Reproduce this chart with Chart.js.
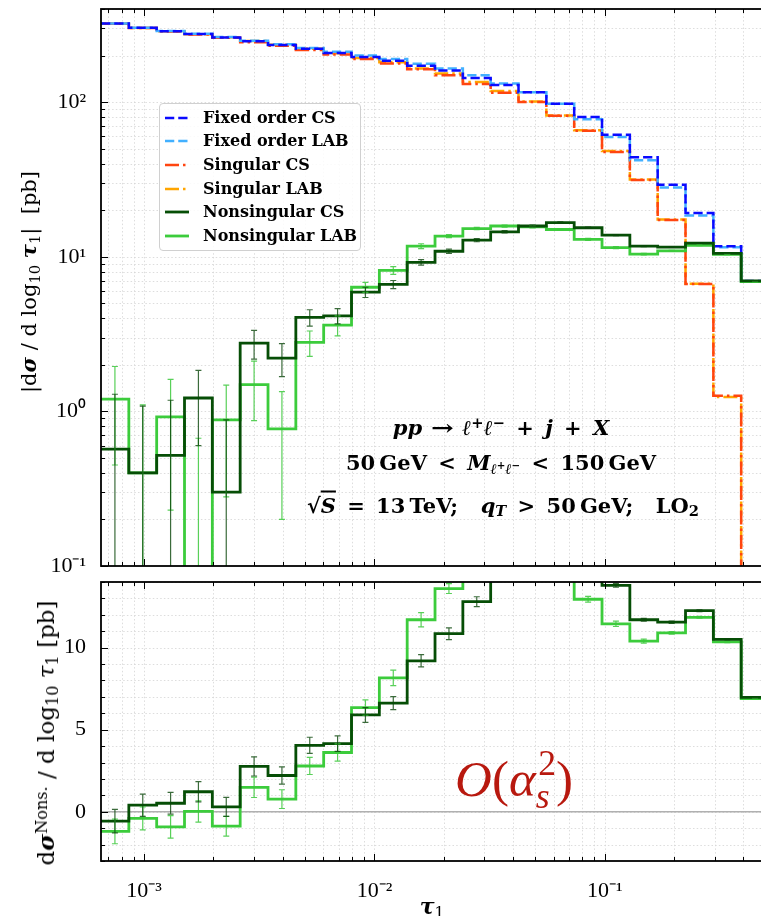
<!DOCTYPE html>
<html>
<head>
<meta charset="utf-8">
<script src="https://cdn.jsdelivr.net/npm/chart.js@4.4.1/dist/chart.umd.min.js"></script>
<style>
html,body{margin:0;padding:0;background:#fff;overflow:hidden;}
#wrap{position:relative;width:761px;height:916px;overflow:hidden;background:#fff;}
#cTop{position:absolute;left:0;top:0;}
#cBot{position:absolute;left:0;top:570px;}
.t{position:absolute;white-space:nowrap;color:#000;transform:translate(-50%,-50%);line-height:1;}
.rot{transform:translate(-50%,-50%) rotate(-90deg);}
.ann{font-family:'DejaVu Serif',serif;font-weight:bold;font-size:21px;word-spacing:4px;}
.ann i{font-style:italic;}
sup,sub{font-size:0.7em;line-height:0;}
sup{vertical-align:0.45em;}
sub{vertical-align:-0.25em;}
#legend{position:absolute;left:159px;top:103px;width:200px;height:146px;border:1px solid #d0d0d0;border-radius:4px;background:rgba(255,255,255,0.85);font-family:'DejaVu Serif',serif;font-weight:bold;font-size:16px;}
.lrow{position:absolute;left:0;height:0;width:100%;}
.lrow svg{position:absolute;left:5px;top:-4px;}
.lrow span{position:absolute;left:43px;top:0;transform:translateY(-54%);white-space:nowrap;}
.ytitle{font-family:'DejaVu Serif',serif;}
</style>
</head>
<body>
<div id="wrap">
<canvas id="cTop" width="800" height="580" style="width:800px;height:580px"></canvas>
<canvas id="cBot" width="800" height="346" style="width:800px;height:346px"></canvas>

<div id="legend">
 <div class="lrow" style="top:13.5px"><svg width="24" height="8"><line x1="0" y1="4" x2="24" y2="4" stroke="#0a0aff" stroke-width="2.5" stroke-dasharray="9.25,4"/></svg><span>Fixed order CS</span></div>
 <div class="lrow" style="top:37.2px"><svg width="24" height="8"><line x1="0" y1="4" x2="24" y2="4" stroke="#42b0ff" stroke-width="2.5" stroke-dasharray="9.25,4"/></svg><span>Fixed order LAB</span></div>
 <div class="lrow" style="top:60.9px"><svg width="24" height="8"><line x1="0" y1="4" x2="24" y2="4" stroke="#ff4510" stroke-width="2.5" stroke-dasharray="14,4,2.5,4"/></svg><span>Singular CS</span></div>
 <div class="lrow" style="top:84.6px"><svg width="24" height="8"><line x1="0" y1="4" x2="24" y2="4" stroke="#ffa500" stroke-width="2.5" stroke-dasharray="14,4,2.5,4"/></svg><span>Singular LAB</span></div>
 <div class="lrow" style="top:108.3px"><svg width="24" height="8"><line x1="0" y1="4" x2="24" y2="4" stroke="#064e06" stroke-width="2.8"/></svg><span>Nonsingular CS</span></div>
 <div class="lrow" style="top:132px"><svg width="24" height="8"><line x1="0" y1="4" x2="24" y2="4" stroke="#3ccc3c" stroke-width="2.8"/></svg><span>Nonsingular LAB</span></div>
</div>

<div class="t ann" style="left:501px;top:427px"><i>pp</i> <span style="display:inline-block;transform:scaleX(1.3)">→</span> <i>ℓ</i><sup>+</sup><i>ℓ</i><sup>−</sup> + <i>j</i> + <i>X</i></div>
<div class="t ann" style="left:501px;top:462px">50&thinsp;GeV &lt; <i>M</i><sub><i>ℓ</i><sup>+</sup><i>ℓ</i><sup>−</sup></sub> &lt; 150&thinsp;GeV</div>
<div class="t ann" style="left:503px;top:505px">√<span style="text-decoration:overline"><i>S</i></span> = 13&thinsp;TeV; &nbsp;<i>q</i><sub><i>T</i></sub> &gt; 50&thinsp;GeV; &nbsp;LO<sub>2</sub></div>

<div class="t" style="left:514px;top:779px;font-family:'Liberation Serif',serif;font-size:51px;color:#b8190f;"><i>O</i>(<i>α</i><sub style="font-style:italic;vertical-align:-0.35em">s</sub><sup style="margin-left:-0.32em;vertical-align:0.6em">2</sup>)</div>

<div class="t rot ytitle" style="left:29px;top:282px;font-size:21px;">|d<b><i>σ</i></b> / d log<sub>10</sub> <b><i>τ</i></b><sub>1</sub>|&nbsp;&nbsp;[pb]</div>
<div class="t rot ytitle" style="left:46px;top:733px;font-size:23px;">d<b><i>σ</i></b><sup>Nons.</sup> / d log<sub>10</sub> <i>τ</i><sub>1</sub> [pb]</div>
<div class="t" style="left:432px;top:906px;font-family:'DejaVu Serif',serif;font-size:22px;"><b><i>τ</i></b><sub>1</sub></div>
</div>

<script>
// Bin edges in tau_1 (log-uniform binning)
const binEdges = [0.0006501, 0.0008587, 0.0011341, 0.0014979, 0.0019784, 0.0026129, 0.0034514, 0.0045582,
  0.006020, 0.0079524, 0.010503, 0.013872, 0.018323, 0.024200, 0.031955, 0.042209, 0.055763, 0.073639,
  0.097253, 0.12846, 0.16965, 0.22408, 0.29600, 0.39084, 0.51617];

// dsigma / dlog10 tau1 [pb]
const fixedOrderCS  = [322, 302, 287, 276, 262, 247, 234, 221, 208, 196, 185, 172, 160, 143, 129, 116, 97.5, 80, 61.5, 44, 29.2, 19.2, 11.7, 6.97];
const fixedOrderLAB = [322, 302, 288, 277, 264, 249, 237, 224, 212, 200, 190, 177, 165, 149, 132, 116, 97.5, 77.5, 59.4, 42, 28.0, 18.5, 11.5, 6.92];
const singularCS    = [321, 301, 286, 274, 261, 244, 231, 217, 203, 190, 178, 163, 149, 131, 115, 100, 81.5, 65.2, 47.6, 31.3, 17.3, 6.67, 1.26, 0.01];
const singularLAB   = [321, 301, 287, 275, 263, 248, 235, 221, 207, 193, 181, 165, 153, 135, 118, 101, 82.0, 65.8, 48.2, 31.6, 17.4, 6.70, 1.24, 0.01];
// nonsingular (signed)
const nonsingularCS  = [-0.57, 0.40, 0.52, 1.22, 0.30, 2.76, 2.21, 4.05, 4.15, 5.90, 6.62, 9.2, 10.85, 12.8, 14.5, 15.8, 16.6, 15.4, 13.8, 11.7, 11.55, 12.25, 10.5, 6.97];
const nonsingularLAB = [-1.2, -0.40, -0.92, 0.02, -0.88, 1.49, 0.77, 2.79, 3.61, 6.35, 8.16, 11.7, 13.6, 15.2, 15.8, 15.6, 15.0, 12.95, 11.45, 10.4, 10.9, 11.85, 10.35, 6.9];
const errCS  = [0.72, 0.68, 0.66, 0.62, 0.58, 0.58, 0.53, 0.49, 0.47, 0.45, 0.40, 0.37, 0.36, 0.30, 0.26, 0.22, 0.18, 0.15, 0.12, 0.08, 0.07, 0.05, 0.04, 0.03];
const errLAB = [0.75, 0.70, 0.69, 0.65, 0.60, 0.62, 0.57, 0.52, 0.53, 0.47, 0.47, 0.43, 0.30, 0.26, 0.24, 0.22, 0.20, 0.18, 0.16, 0.12, 0.08, 0.06, 0.05, 0.03];

const colFoCS = '#0a0aff', colFoLAB = '#42b0ff', colSCS = '#ff4510', colSLAB = '#ffa500', colNCS = '#064e06', colNLAB = '#3ccc3c';

const SUP = {'-':'⁻','0':'⁰','1':'¹','2':'²','3':'³','4':'⁴','5':'⁵','6':'⁶','7':'⁷','8':'⁸','9':'⁹'};
function powLabel(v){ const e = Math.round(Math.log10(v)); return '10' + String(e).split('').map(c => SUP[c]).join(''); }
function steps(vals, f){
  const g = f || (v => v);
  const pts = vals.map((v, i) => ({x: binEdges[i], y: g(v)}));
  pts.push({x: binEdges[vals.length], y: g(vals[vals.length - 1])});
  return pts;
}
function logTicks(scale, lo, hi){
  const t = [];
  for (let e = lo; e <= hi; e++) for (let m = 1; m <= 9; m++) {
    const v = parseFloat((m * Math.pow(10, e)).toPrecision(6));
    if (v >= scale.min * 0.9999 && v <= scale.max * 1.0001) t.push({value: v, major: m === 1});
  }
  scale.ticks = t;
}
function ds(label, data, color, dash, width, dashOffset){
  return {label, data, borderColor: color, borderWidth: width || 2.5, borderDash: dash || [], borderDashOffset: dashOffset || 0,
    pointRadius: 0, stepped: true, fill: false, tension: 0, borderCapStyle: 'butt', borderJoinStyle: 'miter'};
}
function fixY(width){ return s => { s.width = width; s.paddingTop = 0; s.paddingBottom = 0; }; }
function fixX(height){ return s => { s.height = height; s.paddingLeft = 0; s.paddingRight = 0; }; }

const frame = {
  id: 'frame',
  beforeDatasetsDraw(chart, args, o){
    const {ctx, chartArea: a} = chart; const xs = chart.scales.x, ys = chart.scales.y;
    ctx.save();
    ctx.beginPath(); ctx.rect(a.left, a.top, a.right - a.left, a.bottom - a.top); ctx.clip();
    ctx.strokeStyle = '#d4d4d4'; ctx.lineWidth = 0.8; ctx.setLineDash([1.5, 2.2]);
    xs.ticks.forEach(t => { const p = Math.round(xs.getPixelForValue(t.value)) + 0.5; ctx.beginPath(); ctx.moveTo(p, a.top); ctx.lineTo(p, a.bottom); ctx.stroke(); });
    ys.ticks.forEach(t => { const p = Math.round(ys.getPixelForValue(t.value)) + 0.5; ctx.beginPath(); ctx.moveTo(a.left, p); ctx.lineTo(a.right, p); ctx.stroke(); });
    ctx.setLineDash([]);
    if (o.zero) { const p = ys.getPixelForValue(0); ctx.strokeStyle = '#b0b0b0'; ctx.lineWidth = 1.5; ctx.beginPath(); ctx.moveTo(a.left, p); ctx.lineTo(a.right, p); ctx.stroke(); }
    ctx.restore();
  },
  afterDatasetsDraw(chart, args, o){
    const {ctx, chartArea: a} = chart; const xs = chart.scales.x, ys = chart.scales.y;
    ctx.save();
    ctx.beginPath(); ctx.rect(a.left, a.top, a.right - a.left, a.bottom - a.top); ctx.clip();
    (o.bars || []).forEach(b => {
      ctx.strokeStyle = b.color; ctx.lineWidth = 1.2;
      b.vals.forEach((v0, i) => {
        const v = o.abs ? Math.abs(v0) : v0; const e = b.errs[i];
        const xc = xs.getPixelForValue(Math.sqrt(binEdges[i] * binEdges[i + 1]));
        const lo = v - e, hi = v + e;
        const yh = ys.getPixelForValue(hi);
        const yl = (o.abs && lo <= 0) ? a.bottom + 10 : ys.getPixelForValue(lo);
        ctx.beginPath(); ctx.moveTo(xc, yh); ctx.lineTo(xc, yl);
        ctx.moveTo(xc - 3, yh); ctx.lineTo(xc + 3, yh);
        ctx.moveTo(xc - 3, yl); ctx.lineTo(xc + 3, yl); ctx.stroke();
      });
    });
    ctx.restore();
    ctx.save();
    ctx.strokeStyle = '#000'; ctx.lineWidth = 1;
    xs.ticks.forEach(t => { const p = Math.round(xs.getPixelForValue(t.value)) + 0.5; const L = t.major ? 7 : 4;
      ctx.beginPath(); ctx.moveTo(p, a.bottom); ctx.lineTo(p, a.bottom - L); ctx.moveTo(p, a.top); ctx.lineTo(p, a.top + L); ctx.stroke(); });
    ys.ticks.forEach(t => { const p = Math.round(ys.getPixelForValue(t.value)) + 0.5; const L = t.major ? 7 : 4;
      ctx.beginPath(); ctx.moveTo(a.left, p); ctx.lineTo(a.left + L, p); ctx.moveTo(a.right, p); ctx.lineTo(a.right - L, p); ctx.stroke(); });
    ctx.lineWidth = 1.8;
    ctx.strokeRect(a.left, a.top, a.right - a.left, a.bottom - a.top);
    ctx.restore();
  }
};

const tickFont = {family: "'Liberation Serif', serif", size: 22};

new Chart(document.getElementById('cTop'), {
  type: 'line',
  data: {datasets: [
    ds('Nonsingular CS', steps(nonsingularCS, Math.abs), colNCS, [], 2.8),
    ds('Nonsingular LAB', steps(nonsingularLAB, Math.abs), colNLAB, [], 2.8),
    ds('Fixed order CS', steps(fixedOrderCS), colFoCS, [9.25, 4]),
    ds('Fixed order LAB', steps(fixedOrderLAB), colFoLAB, [9.25, 4], 2.5, 6),
    ds('Singular CS', steps(singularCS), colSCS, [14, 4, 2.5, 4]),
    ds('Singular LAB', steps(singularLAB), colSLAB, [14, 4, 2.5, 4], 2.5, 9)
  ]},
  options: {
    responsive: false, animation: false, events: [],
    layout: {padding: {top: 9, left: 0, right: 31, bottom: 0}},
    plugins: {legend: {display: false}, tooltip: {enabled: false},
      frame: {abs: true, bars: [
        {vals: nonsingularLAB, errs: errLAB, color: 'rgba(60,200,60,0.85)'},
        {vals: nonsingularCS, errs: errCS, color: 'rgba(10,70,10,0.8)'}
      ]}},
    scales: {
      x: {type: 'logarithmic', min: binEdges[0], max: binEdges[24], bounds: 'data',
        grid: {display: false}, border: {display: false}, ticks: {display: false},
        afterBuildTicks: s => logTicks(s, -4, 0), afterFit: fixX(14)},
      y: {type: 'logarithmic', min: 0.1, max: 400, bounds: 'data',
        grid: {display: false}, border: {display: false},
        ticks: {autoSkip: false, padding: 7, color: '#000', font: tickFont,
          callback: (v, i, t) => t[i].major ? powLabel(v) : ''},
        afterBuildTicks: s => logTicks(s, -1, 2), afterFit: fixY(101)}
    }
  },
  plugins: [frame]
});

new Chart(document.getElementById('cBot'), {
  type: 'line',
  data: {datasets: [
    ds('Nonsingular CS', steps(nonsingularCS), colNCS, [], 2.8),
    ds('Nonsingular LAB', steps(nonsingularLAB), colNLAB, [], 2.8)
  ]},
  options: {
    responsive: false, animation: false, events: [],
    layout: {padding: {top: 12, left: 0, right: 31, bottom: 0}},
    plugins: {legend: {display: false}, tooltip: {enabled: false},
      frame: {abs: false, zero: true, bars: [
        {vals: nonsingularLAB, errs: errLAB, color: 'rgba(60,200,60,0.85)'},
        {vals: nonsingularCS, errs: errCS, color: 'rgba(10,70,10,0.8)'}
      ]}},
    scales: {
      x: {type: 'logarithmic', min: binEdges[0], max: binEdges[24], bounds: 'data',
        grid: {display: false}, border: {display: false},
        ticks: {autoSkip: false, maxRotation: 0, minRotation: 0, padding: 9, color: '#000', font: tickFont,
          callback: (v, i, t) => t[i].major ? powLabel(v) : ''},
        afterBuildTicks: s => logTicks(s, -4, 0), afterFit: fixX(55)},
      y: {type: 'linear', min: -3, max: 14, bounds: 'data',
        grid: {display: false}, border: {display: false},
        ticks: {autoSkip: false, padding: 7, color: '#000', font: tickFont,
          callback: (v, i, t) => t[i].major ? String(v) : ''},
        afterBuildTicks: s => { const t = []; for (let v = -3; v <= 14; v++) t.push({value: v, major: v % 5 === 0}); s.ticks = t; },
        afterFit: fixY(101)}
    }
  },
  plugins: [frame]
});
</script>
</body>
</html>
